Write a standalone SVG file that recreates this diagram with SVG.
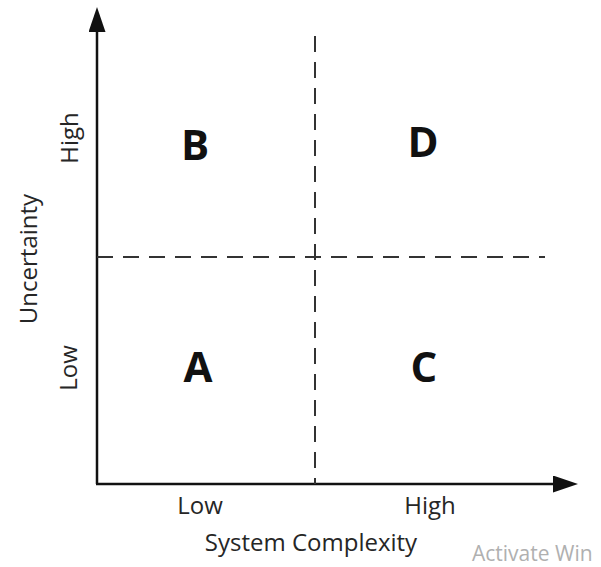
<svg xmlns="http://www.w3.org/2000/svg" width="601" height="567" viewBox="0 0 601 567">
  <style>
    .axis { stroke: #111; stroke-width: 2.5; fill: none; }
    .divider { stroke: #333; stroke-width: 2; stroke-dasharray: 16 10; fill: none; }
    .label { font-family: "Open Sans", "Liberation Sans", sans-serif; font-size: 24px; fill: #262626; }
    .quad { font-family: "Open Sans", "Liberation Sans", sans-serif; font-size: 42px; font-weight: bold; fill: #111; text-anchor: middle; }
    .mark { font-family: "Open Sans", "Liberation Sans", sans-serif; font-size: 21px; fill: #b0b0b0; }
  </style>
  <defs>
    <marker id="arrow" viewBox="0 0 10 10" refX="0" refY="5" markerUnits="userSpaceOnUse" markerWidth="25" markerHeight="17" preserveAspectRatio="none" orient="auto">
      <path d="M0,0 L10,5 L0,10 Z" fill="#111"/>
    </marker>
  </defs>

  <rect width="601" height="567" fill="#fff"/>

  <g id="connectors">
    <!-- axes -->
    <line class="axis" x1="97" y1="484" x2="97" y2="32" marker-end="url(#arrow)"/>
    <line class="axis" x1="96" y1="484" x2="553" y2="484" marker-end="url(#arrow)"/>
    <!-- quadrant dividers -->
    <line class="divider" x1="315" y1="36" x2="315" y2="484"/>
    <line class="divider" x1="97" y1="257" x2="545" y2="257"/>
  </g>

  <g id="axis-labels">
    <text class="label" x="200" y="514" text-anchor="middle">Low</text>
    <text class="label" x="430" y="514" text-anchor="middle">High</text>
    <text class="label" x="311" y="551" text-anchor="middle">System Complexity</text>
    <text class="label" transform="translate(78,138) rotate(-90)" text-anchor="middle">High</text>
    <text class="label" transform="translate(37,259) rotate(-90)" text-anchor="middle">Uncertainty</text>
    <text class="label" transform="translate(77,368) rotate(-90)" text-anchor="middle">Low</text>
  </g>

  <g id="quadrant-B"><text class="quad" x="195" y="160">B</text></g>
  <g id="quadrant-D"><text class="quad" x="423" y="157">D</text></g>
  <g id="quadrant-A"><text class="quad" x="198" y="382">A</text></g>
  <g id="quadrant-C"><text class="quad" x="424" y="382">C</text></g>

  <text class="mark" x="472" y="561">Activate Win</text>
</svg>
